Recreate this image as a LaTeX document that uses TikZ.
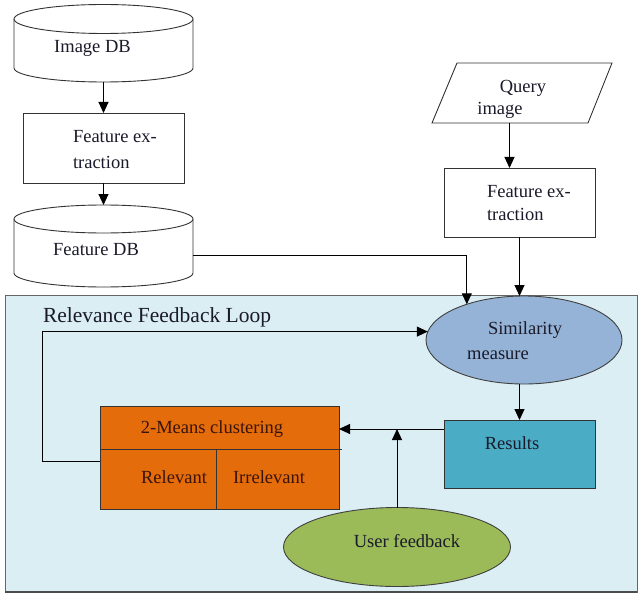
\documentclass[tikz,border=0pt]{standalone}
\usepackage{fontspec}
\setmainfont{Liberation Serif}
\newfontfamily\serifrm{Liberation Serif}
\usetikzlibrary{arrows.meta,shapes.geometric}
\definecolor{loopbg}{HTML}{DBEEF4}
\definecolor{simfill}{HTML}{95B3D7}
\definecolor{resfill}{HTML}{4BACC6}
\definecolor{clufill}{HTML}{E46C0A}
\definecolor{uffill}{HTML}{9BBB59}
\definecolor{txtdark}{HTML}{1A1A2A}
\definecolor{txtmaroon}{HTML}{3A140A}
\tikzset{
  conn/.style={draw=black, line width=1pt, -{Triangle[length=11pt,width=10pt]}},
  plainbox/.style={draw=black!80, line width=0.9pt, fill=white, anchor=north west},
  txt/.style={font=\serifrm\fontsize{18.5}{21}\selectfont, text=txtdark},
}
\begin{document}
\begin{tikzpicture}[x=1pt,y=-1pt, every node/.style={inner sep=0pt, outer sep=0pt}]
\useasboundingbox (0,0) rectangle (639,596);

% ---- Relevance feedback loop frame
\node[draw=black!60, line width=1pt, fill=loopbg, anchor=north west,
      minimum width=632pt, minimum height=297pt] (loop) at (5,295) {};
\draw[black!70, line width=2.2pt] (loop.south west) -- (loop.south east);
\node[txt, font=\serifrm\fontsize{21.5}{24}\selectfont, anchor=west] (looptitle) at (43,317) {Relevance Feedback Loop};

% ---- Image DB cylinder
\node[anchor=north west, minimum width=179pt, minimum height=77.5pt] (imgdb) at (14,4.5) {};
\draw[black!80, line width=0.9pt, fill=white] (14,19) -- (14,68)
   arc[start angle=180, end angle=360, x radius=89.5pt, y radius=14pt] -- (193,19);
\draw[black!80, line width=0.9pt, fill=white] (103.5,19) ellipse [x radius=89.5pt, y radius=14.5pt];
\node[txt] (imgdbt) at (92.5,48) {Image DB};

% ---- Feature extraction 1
\node[plainbox, minimum width=161pt, minimum height=70pt] (fe1) at (23,113) {};
\node[txt, anchor=west] (fe1a) at (73,137) {Feature ex-};
\node[txt, anchor=west] (fe1b) at (73,162) {traction};

% ---- Feature DB cylinder
\node[anchor=north west, minimum width=179pt, minimum height=82pt] (featdb) at (14,205) {};
\draw[black!80, line width=0.9pt, fill=white] (14,219) -- (14,273)
   arc[start angle=180, end angle=360, x radius=89.5pt, y radius=14pt] -- (193,219);
\draw[black!80, line width=0.9pt, fill=white] (103.5,219) ellipse [x radius=89.5pt, y radius=14pt];
\node[txt] (featdbt) at (96,250) {Feature DB};

% ---- Query image parallelogram
\node[minimum width=150pt, minimum height=60pt] (query) at (522,93) {};
\draw[black!80, line width=0.9pt, fill=white] (457,63) -- (612,63) -- (588,123) -- (432,123) -- cycle;
\node[txt] (querya) at (523,88) {Query};
\node[txt] (queryb) at (500,110) {image};

% ---- Feature extraction 2
\node[plainbox, minimum width=151pt, minimum height=69pt] (fe2) at (444,168) {};
\node[txt, anchor=west] (fe2a) at (487,192) {Feature ex-};
\node[txt, anchor=west] (fe2b) at (487,214) {traction};

% ---- Similarity measure
\node[ellipse, draw=black!75, line width=0.9pt, fill=simfill,
      minimum width=196pt, minimum height=88pt] (sim) at (524,340) {};
\node[txt] (sima) at (525,330) {Similarity};
\node[txt] (simb) at (498,355) {measure};

% ---- Results
\node[draw=black!80, line width=0.9pt, fill=resfill, anchor=north west,
      minimum width=151pt, minimum height=68pt] (res) at (444,420) {};
\node[txt] (rest) at (512,443) {Results};

% ---- 2-means clustering
\node[draw=black!80, line width=0.9pt, fill=clufill, anchor=north west,
      minimum width=239pt, minimum height=103pt] (clu) at (100,406) {};
\draw[black!80, line width=0.9pt] ([yshift=-43pt]clu.north west) -- ++(242,0);
\draw[black!80, line width=0.9pt] ([xshift=116pt]clu.south west) -- ++(0,-60);
\node[txt, text=txtmaroon] (clut) at (212,429) {2-Means clustering};
\node[txt, text=txtmaroon] (clur) at (174,477) {Relevant};
\node[txt, text=txtmaroon] (clui) at (269,477) {Irrelevant};

% ---- User feedback
\node[ellipse, draw=black!75, line width=0.9pt, fill=uffill,
      minimum width=227pt, minimum height=79pt] (uf) at (397,547) {};
\node[txt] (uft) at (407,541) {User feedback};

% ---- Connectors
\draw[conn] (imgdb.south) -- (fe1.north);
\draw[conn] (fe1.south) -- (featdb.north);
\draw[conn] ([yshift=-9pt]featdb.east) -| (sim.148);
\coordinate (qout) at ([xshift=-10pt]fe2.north |- query.south);
\draw[conn] (qout) -- (qout |- fe2.north);
\draw[conn] (fe2.south) -- (fe2.south |- sim.north);
\draw[conn] (res.north |- sim.south) -- (res.north);
\coordinate (resout) at ([yshift=-9pt]res.north west);
\draw[conn] (resout) -- (resout -| clu.east);
\draw[conn] (uf.north) -- (uf.north |- resout);
\coordinate (cluout) at ([yshift=-55pt]clu.north west);
\draw[conn] (cluout) -- ++(-58,0) |- (sim.175);
\end{tikzpicture}
\end{document}
